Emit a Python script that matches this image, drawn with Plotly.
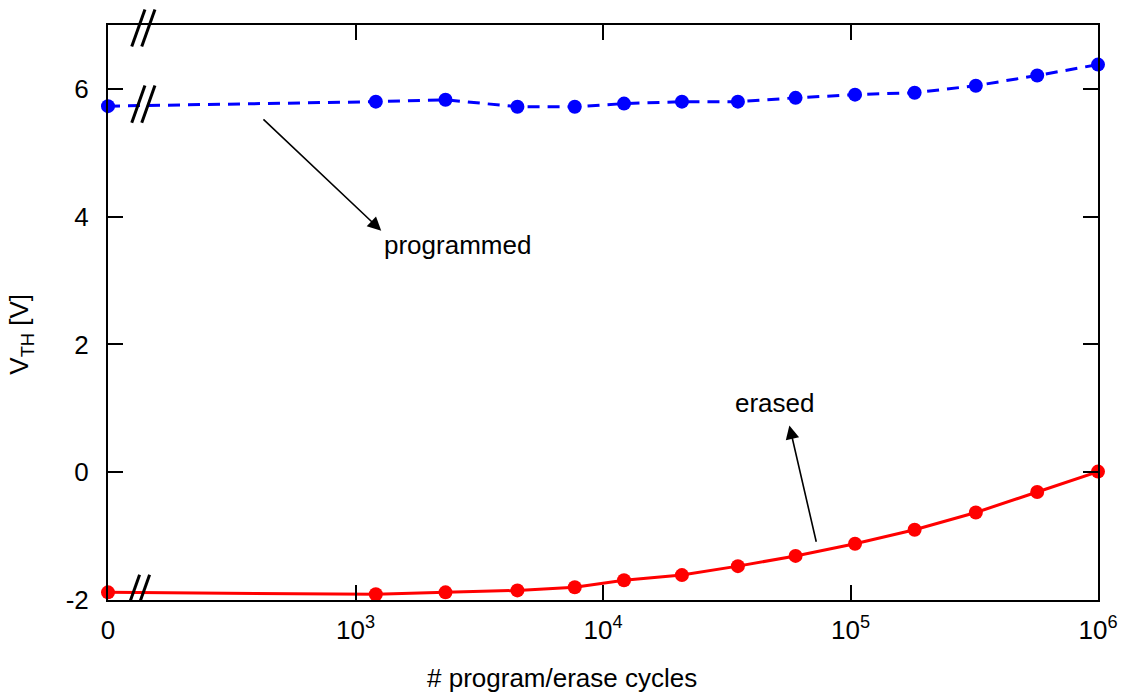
import plotly.graph_objects as go

# Number of program/erase cycles (0 = fresh device, shown left of the axis break)
CYCLES = [0, 1208, 2310, 4510, 7690, 12160, 20840, 35080, 59980,
          104300, 181600, 320900, 568000, 1000000]
# Threshold voltage after programming / erasing [V]
VTH_PROGRAMMED = [5.73, 5.80, 5.83, 5.72, 5.72, 5.77, 5.80, 5.80, 5.86,
                  5.91, 5.94, 6.05, 6.21, 6.38]
VTH_ERASED = [-1.88, -1.91, -1.88, -1.85, -1.80, -1.69, -1.61, -1.47, -1.31,
              -1.12, -0.90, -0.63, -0.31, 0.01]

X_TICKS = [100, 1e3, 1e4, 1e5, 1e6]
X_TICK_TEXT = ["0", "10<sup>3</sup>", "10<sup>4</sup>", "10<sup>5</sup>", "10<sup>6</sup>"]
Y_TICKS = [-2, 0, 2, 4, 6]
Y_TICK_TEXT = ["-2", "0", "2", "4", "6"]

# The log axis starts at 10^2; the zero-cycle point sits there, past a break mark
ZERO_AT = 100
x_plot = [ZERO_AT if c == 0 else c for c in CYCLES]

FONT = "Liberation Sans, Arial, Helvetica, sans-serif"
FS = 26

fig = go.Figure()
fig.add_trace(go.Scatter(
    x=x_plot, y=VTH_PROGRAMMED, mode="lines+markers", name="programmed",
    line=dict(color="#0000ff", width=3, dash="12px,8px"),
    marker=dict(color="#0000ff", size=14), cliponaxis=False,
))
fig.add_trace(go.Scatter(
    x=x_plot, y=VTH_ERASED, mode="lines+markers", name="erased",
    line=dict(color="#ff0000", width=3),
    marker=dict(color="#ff0000", size=14), cliponaxis=False,
))

axis_common = dict(
    showline=True, linecolor="black", linewidth=2, mirror="ticks",
    ticks="inside", ticklen=15, tickwidth=1.5, tickcolor="black",
    showgrid=False, zeroline=False,
    tickfont=dict(family=FONT, size=FS, color="black"),
)
fig.update_xaxes(type="log", range=[2, 6], tickmode="array",
                 tickvals=X_TICKS, ticktext=X_TICK_TEXT,
                 ticklabelstandoff=6, **axis_common)
fig.update_yaxes(range=[-2, 7], tickmode="array",
                 tickvals=Y_TICKS, ticktext=Y_TICK_TEXT,
                 ticklabelstandoff=12, **axis_common)

# Axis-break marks ("//") on the top frame and across both curves
def break_mark(xc, yref, yanchor, dy=0):
    for off in (-5, 5):
        fig.add_shape(type="line", xref="paper", yref=yref,
                      xsizemode="pixel", ysizemode="pixel",
                      xanchor=xc, yanchor=yanchor,
                      x0=off - 6.6, y0=dy - 18.6, x1=off + 6.6, y1=dy + 18.6,
                      line=dict(color="black", width=3))

break_mark(0.0357, "paper", 1, dy=-3)
break_mark(0.0357, "y", VTH_PROGRAMMED[0], dy=2)
break_mark(0.0303, "y", VTH_ERASED[0], dy=-1)

# Arrows from each curve to its label
arrow = dict(showarrow=True, arrowhead=2, arrowsize=1.7, arrowwidth=1.6,
             arrowcolor="black", text="", xref="x", yref="y",
             axref="x", ayref="y")
fig.add_annotation(x=3.104, y=3.78, ax=2.622, ay=5.545, **arrow)
fig.add_annotation(x=4.753, y=0.73, ax=4.863, ay=-1.112, **arrow)

label_font = dict(family=FONT, size=FS, color="black")
fig.add_annotation(x=3.106, y=3.56, xref="x", yref="y", text="programmed",
                   showarrow=False, xanchor="left", yanchor="middle", font=label_font)
fig.add_annotation(x=4.694, y=1.08, xref="x", yref="y", text="erased",
                   showarrow=False, xanchor="center", yanchor="middle", font=label_font)

# Axis titles
fig.add_annotation(x=0.459, y=-0.1357, xref="paper", yref="paper",
                   text="# program/erase cycles", showarrow=False,
                   xanchor="center", yanchor="middle", font=label_font)
fig.add_annotation(x=-0.088, y=0.463, xref="paper", yref="paper",
                   text="V<sub>TH</sub> [V]", showarrow=False, textangle=-90,
                   xanchor="center", yanchor="middle", font=label_font)

fig.update_layout(
    width=1122, height=693,
    margin=dict(l=108, r=24, t=25, b=93, autoexpand=False),
    paper_bgcolor="white", plot_bgcolor="white",
    showlegend=False,
    font=dict(family=FONT, size=FS, color="black"),
)

fig.write_html("out.html")
